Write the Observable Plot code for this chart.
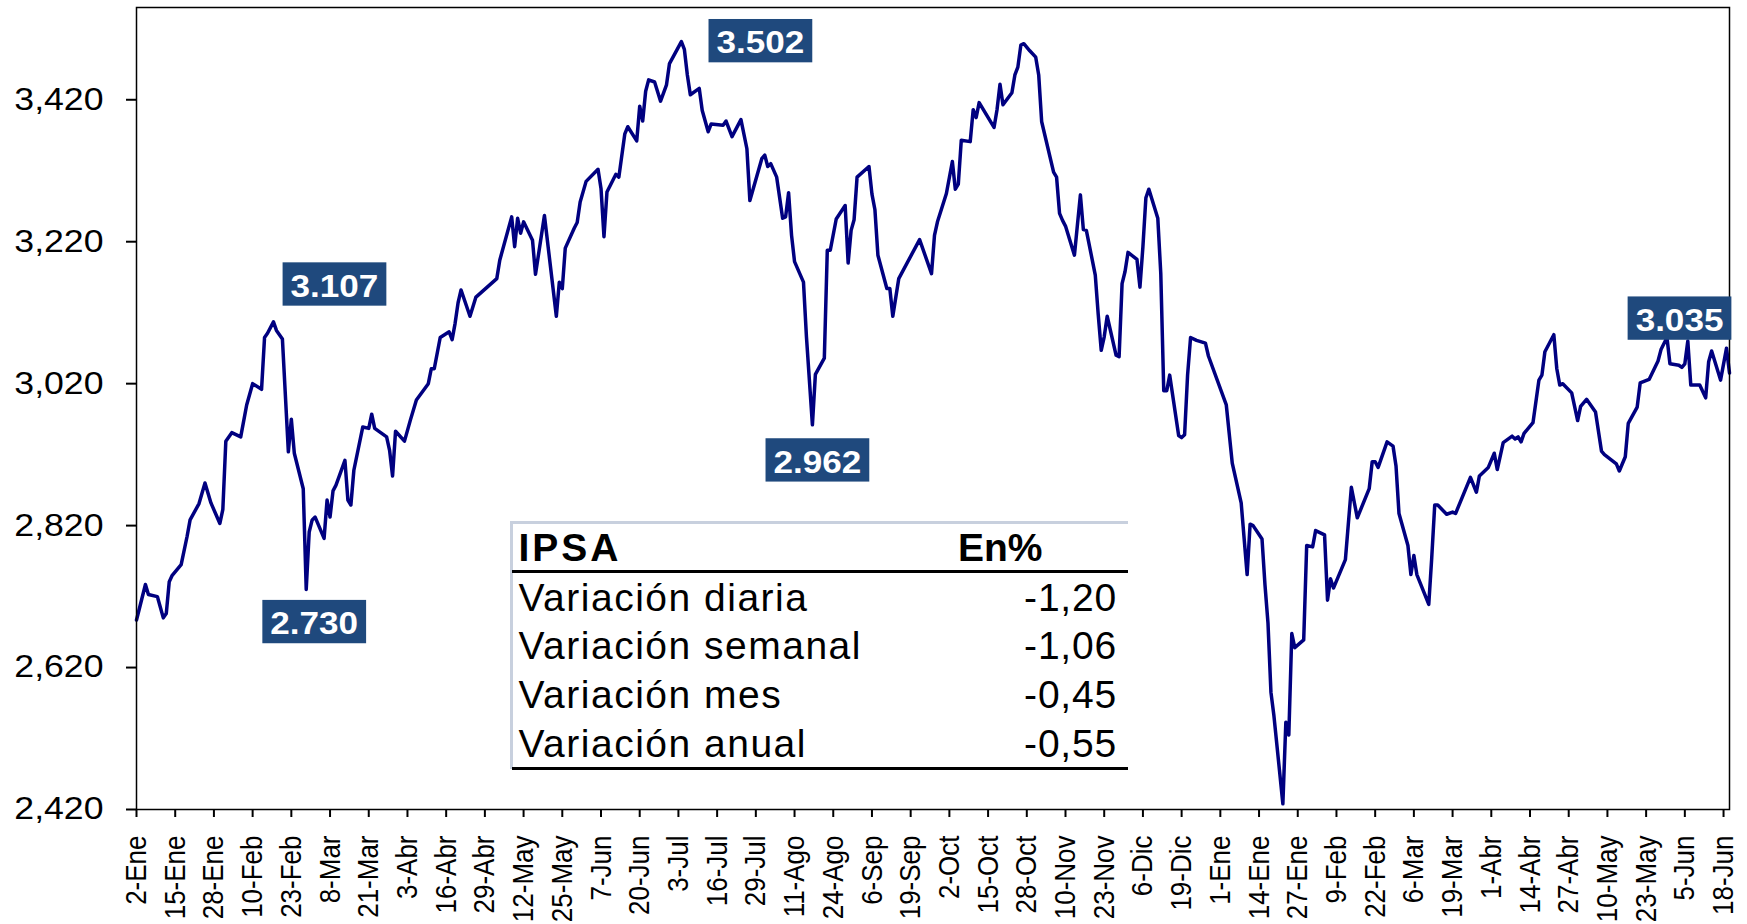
<!DOCTYPE html>
<html>
<head>
<meta charset="utf-8">
<script src="https://cdn.jsdelivr.net/npm/d3@7"></script>
<script src="https://cdn.jsdelivr.net/npm/@observablehq/plot@0.6"></script>
<style>
html,body{margin:0;padding:0;background:#fff;overflow:hidden}
#wrap{position:relative;width:1747px;height:924px}
#tbl{position:absolute;left:510px;top:521px;width:618px;height:249px;font-family:"Liberation Sans",Arial,sans-serif;font-size:39px;line-height:39px;color:#000}
#tbl .ln{position:absolute}
#tbl .txt{position:absolute;white-space:nowrap}
</style>
</head>
<body>
<div id="wrap"></div>
<script>
// ---------------- data ----------------
const dates = [
"2007-01-02","2007-01-05","2007-01-06","2007-01-09","2007-01-11","2007-01-12","2007-01-13","2007-01-14","2007-01-17","2007-01-19",
"2007-01-20","2007-01-23","2007-01-25","2007-01-27","2007-01-30","2007-01-31","2007-02-01","2007-02-03","2007-02-06","2007-02-08",
"2007-02-10","2007-02-13","2007-02-14","2007-02-15","2007-02-17","2007-02-18","2007-02-20","2007-02-22","2007-02-23","2007-02-24",
"2007-02-27","2007-02-28","2007-03-01","2007-03-02","2007-03-03","2007-03-06","2007-03-07","2007-03-08","2007-03-09","2007-03-10",
"2007-03-13","2007-03-14","2007-03-15","2007-03-16","2007-03-19","2007-03-21","2007-03-22","2007-03-23","2007-03-27","2007-03-28",
"2007-03-29","2007-03-30","2007-04-02","2007-04-04","2007-04-06","2007-04-10","2007-04-11","2007-04-12","2007-04-14","2007-04-17",
"2007-04-18","2007-04-19","2007-04-20","2007-04-21","2007-04-24","2007-04-26","2007-05-03","2007-05-04","2007-05-08","2007-05-09",
"2007-05-10","2007-05-11","2007-05-12","2007-05-15","2007-05-16","2007-05-19","2007-05-23","2007-05-24","2007-05-25","2007-05-26",
"2007-05-29","2007-05-30","2007-05-31","2007-06-02","2007-06-06","2007-06-07","2007-06-08","2007-06-09","2007-06-12","2007-06-13",
"2007-06-15","2007-06-16","2007-06-19","2007-06-20","2007-06-21","2007-06-22","2007-06-23","2007-06-25","2007-06-27","2007-06-29",
"2007-06-30","2007-07-04","2007-07-05","2007-07-06","2007-07-07","2007-07-10","2007-07-11","2007-07-13","2007-07-14","2007-07-18",
"2007-07-19","2007-07-21","2007-07-24","2007-07-26","2007-07-27","2007-07-31","2007-08-01","2007-08-02","2007-08-03","2007-08-05",
"2007-08-07","2007-08-08","2007-08-09","2007-08-10","2007-08-11","2007-08-14","2007-08-15","2007-08-17","2007-08-18","2007-08-21",
"2007-08-22","2007-08-23","2007-08-25","2007-08-28","2007-08-29","2007-08-30","2007-08-31","2007-09-01","2007-09-05","2007-09-06",
"2007-09-07","2007-09-08","2007-09-11","2007-09-12","2007-09-13","2007-09-15","2007-09-22","2007-09-26","2007-09-27","2007-09-28",
"2007-10-01","2007-10-03","2007-10-04","2007-10-05","2007-10-06","2007-10-09","2007-10-10","2007-10-11","2007-10-12","2007-10-17",
"2007-10-18","2007-10-19","2007-10-20","2007-10-23","2007-10-24","2007-10-25","2007-10-26","2007-10-27","2007-10-29","2007-10-31",
"2007-11-01","2007-11-02","2007-11-06","2007-11-07","2007-11-08","2007-11-09","2007-11-10","2007-11-13","2007-11-15","2007-11-16",
"2007-11-17","2007-11-20","2007-11-21","2007-11-22","2007-11-23","2007-11-24","2007-11-27","2007-11-28","2007-11-29","2007-11-30",
"2007-12-01","2007-12-04","2007-12-05","2007-12-06","2007-12-07","2007-12-08","2007-12-11","2007-12-12","2007-12-13","2007-12-14",
"2007-12-15","2007-12-18","2007-12-19","2007-12-20","2007-12-21","2007-12-22","2007-12-24","2007-12-27","2007-12-28","2008-01-03",
"2008-01-05","2008-01-08","2008-01-10","2008-01-11","2008-01-12","2008-01-15","2008-01-16","2008-01-17","2008-01-18","2008-01-19",
"2008-01-22","2008-01-23","2008-01-24","2008-01-25","2008-01-26","2008-01-29","2008-01-30","2008-02-01","2008-02-02","2008-02-05",
"2008-02-06","2008-02-07","2008-02-08","2008-02-12","2008-02-14","2008-02-16","2008-02-20","2008-02-21","2008-02-22","2008-02-23",
"2008-02-26","2008-02-28","2008-02-29","2008-03-01","2008-03-04","2008-03-05","2008-03-06","2008-03-07","2008-03-11","2008-03-12",
"2008-03-13","2008-03-14","2008-03-17","2008-03-19","2008-03-20","2008-03-25","2008-03-27","2008-03-28","2008-03-31","2008-04-02",
"2008-04-03","2008-04-05","2008-04-08","2008-04-09","2008-04-10","2008-04-11","2008-04-12","2008-04-15","2008-04-17","2008-04-18",
"2008-04-19","2008-04-22","2008-04-23","2008-04-24","2008-04-25","2008-04-28","2008-04-30","2008-05-01","2008-05-03","2008-05-06",
"2008-05-08","2008-05-09","2008-05-13","2008-05-14","2008-05-16","2008-05-17","2008-05-20","2008-05-21","2008-05-24","2008-05-27",
"2008-05-28","2008-05-30","2008-05-31","2008-06-03","2008-06-04","2008-06-05","2008-06-06","2008-06-07","2008-06-10","2008-06-12",
"2008-06-13","2008-06-14","2008-06-17","2008-06-19","2008-06-20"
];
const values = [
2687,2737,2723,2720,2690,2696,2741,2750,2765,2805,
2828,2851,2880,2852,2823,2843,2939,2951,2945,2990,
3020,3012,3085,3091,3107,3095,3083,2924,2970,2922,
2872,2730,2811,2828,2832,2802,2856,2832,2869,2877,
2912,2856,2849,2898,2959,2957,2977,2957,2945,2926,
2890,2953,2939,2969,2997,3020,3041,3041,3085,3093,
3082,3105,3134,3152,3115,3142,3168,3194,3255,3213,
3253,3232,3248,3222,3174,3257,3115,3163,3154,3211,
3239,3247,3276,3305,3322,3295,3227,3290,3315,3311,
3372,3382,3362,3411,3390,3432,3448,3445,3418,3441,
3471,3502,3491,3455,3427,3436,3405,3375,3386,3384,
3390,3368,3392,3351,3278,3337,3342,3326,3330,3311,
3253,3255,3289,3229,3192,3163,3086,2962,3033,3056,
3208,3208,3252,3271,3190,3236,3251,3311,3326,3287,
3265,3201,3154,3154,3115,3168,3223,3175,3229,3248,
3288,3333,3294,3301,3363,3361,3406,3395,3416,3381,
3406,3442,3413,3430,3455,3466,3497,3499,3489,3480,
3455,3389,3318,3311,3260,3250,3242,3201,3286,3237,
3236,3173,3117,3067,3086,3115,3060,3058,3161,3178,
3205,3195,3156,3213,3282,3294,3253,3175,3010,3010,
3032,2947,2944,2948,3032,3085,3081,3077,3059,2990,
2908,2852,2751,2822,2820,2801,2736,2683,2585,2552,
2428,2543,2525,2668,2648,2659,2792,2790,2813,2807,
2715,2745,2732,2772,2874,2831,2872,2910,2910,2902,
2938,2932,2904,2837,2792,2751,2778,2751,2709,2775,
2849,2849,2836,2839,2837,2888,2867,2890,2902,2922,
2899,2937,2946,2942,2945,2938,2950,2965,3025,3032,
3065,3089,3041,3018,3020,3007,2968,2988,2998,2980,
2925,2920,2907,2897,2917,2964,2987,3021,3026,3052,
3068,3085,3048,3046,3043,3048,3080,3018,3018,3000,
3051,3066,3025,3070,3035
];
const monthNames = ["Ene","Feb","Mar","Abr","May","Jun","Jul","Ago","Sep","Oct","Nov","Dic"];
const yTicks = [2420, 2620, 2820, 3020, 3220, 3420];
const xTickStart = "2007-01-02";
const xTickStepDays = 13;
const xTickCount = 42;
const yDomain = [2420, 3550];

// highlighted values (labels in boxes)
const labelDates = ["2007-02-17", "2007-07-04", "2007-02-28", "2007-08-17", "2008-06-20"];
const labelValues = [3107, 3502, 2730, 2962, 3035];

// summary table
const tableHeader = ["IPSA", "En%"];
const tableLabels = ["Variación diaria", "Variación semanal", "Variación mes", "Variación anual"];
const tableValues = ["-1,20", "-1,06", "-0,45", "-0,55"];

// ---------------- styles / layout ----------------
const FONT = '"Liberation Sans", Arial, sans-serif';
const LINE_COLOR = "#000080";
const BOX_COLOR = "#1F497D";
const labelOffsets = [[61, -35], [79, 2], [8, 35], [5, 38], [-50, -52]];

const data = dates.map((d, i) => ({date: new Date(d), value: values[i]}));
const xTicks = d3.range(xTickCount).map(i => d3.utcDay.offset(new Date(xTickStart), xTickStepDays * i));
const esFmt = d3.formatLocale({decimal: ",", thousands: ".", grouping: [3], currency: ["$", ""]}).format(",.0f");
const labelTexts = labelValues.map(v => esFmt(v));

const labelMarks = labelDates.map((d, i) => Plot.text([{date: new Date(d), value: labelValues[i], t: labelTexts[i]}], {
  x: "date", y: "value", text: "t",
  dx: labelOffsets[i][0], dy: labelOffsets[i][1],
  fill: "white", fontSize: 30.5, fontWeight: "bold", fontFamily: FONT,
  textAnchor: "middle"
}));

const chart = Plot.plot({
  width: 1747, height: 924,
  marginLeft: 136, marginRight: 18, marginTop: 7, marginBottom: 115,
  style: {fontFamily: FONT, background: "white", color: "black", overflow: "visible"},
  x: {type: "utc", domain: d3.extent(data, d => d.date)},
  y: {domain: yDomain},
  marks: [
    Plot.axisY({ticks: yTicks, tickFormat: d3.format(","), tickSize: 10, tickPadding: 23, fontSize: 31, strokeWidth: 2, label: null}),
    Plot.axisX({ticks: xTicks, tickFormat: d => `${d.getUTCDate()}-${monthNames[d.getUTCMonth()]}`,
      tickRotate: -90, tickSize: 8, tickPadding: 18, fontSize: 26, strokeWidth: 2, label: null, textAnchor: "end"}),
    Plot.line(data, {x: "date", y: "value", stroke: LINE_COLOR, strokeWidth: 3.5}),
    Plot.frame({stroke: "black", strokeWidth: 1.5}),
    ...labelMarks
  ]
});

const wrap = document.getElementById("wrap");
wrap.appendChild(chart);
const svg = chart.tagName.toLowerCase() === "svg" ? chart : chart.querySelector("svg");

// horizontal stretch of the text (as in the original picture)
function stretch(nodes, sx, sy) {
  nodes.forEach(t => {
    const tr = t.getAttribute("transform") || "";
    const xa = t.getAttribute("x"), ya = t.getAttribute("y");
    let tx = 0, ty = 0;
    if (xa !== null && xa !== "" && !isNaN(+xa)) { tx = +xa; t.removeAttribute("x"); }
    if (ya !== null && ya !== "" && !isNaN(+ya)) { ty = +ya; t.removeAttribute("y"); }
    t.setAttribute("transform", `${tr} translate(${tx},${ty}) scale(${sx},${sy})`);
  });
}
stretch(svg.querySelectorAll('[aria-label="y-axis tick label"] text'), 1.15, 1);
stretch(svg.querySelectorAll('[aria-label="x-axis tick label"] text'), 1, 1.15);

const allTexts = Array.from(svg.querySelectorAll("text"));
const valueTexts = allTexts.filter(t => labelTexts.includes(t.textContent.trim()));
stretch(valueTexts, 1.15, 1);

// boxes behind value labels
const NS = "http://www.w3.org/2000/svg";
const sb = svg.getBoundingClientRect();
valueTexts.forEach(t => {
  const r = t.getBoundingClientRect();
  const rect = document.createElementNS(NS, "rect");
  rect.setAttribute("x", r.left - sb.left - 8);
  rect.setAttribute("y", r.top - sb.top - 6.5);
  rect.setAttribute("width", r.width + 16);
  rect.setAttribute("height", r.height + 9);
  rect.setAttribute("fill", BOX_COLOR);
  const g = document.createElementNS(NS, "g");
  g.appendChild(rect);
  let host = t;
  while (host.parentNode && host.parentNode !== svg) host = host.parentNode;
  svg.insertBefore(g, host);
});

// summary table (HTML overlay)
const tbl = document.createElement("div");
tbl.id = "tbl";
wrap.appendChild(tbl);
function add(cls, css, text) {
  const el = document.createElement("div");
  el.className = cls;
  el.style.cssText = css;
  if (text !== undefined) el.textContent = text;
  tbl.appendChild(el);
  return el;
}
add("ln", "left:0;top:0;width:618px;height:3px;background:#C8D0DE");
add("ln", "left:0;top:0;width:2.5px;height:248px;background:#C8D0DE");
add("ln", "left:2px;top:49px;width:616px;height:3px;background:#000");
add("ln", "left:2px;top:246px;width:616px;height:3px;background:#000");
const ASC = 33; // baseline offset for 39px font at line-height 39px
const headBase = 39.7, firstBase = 89.7, rowStep = 48.6;
add("txt", `left:8.5px;top:${headBase - ASC}px;font-weight:bold;letter-spacing:3px`, tableHeader[0]);
add("txt", `left:448px;top:${headBase - ASC}px;font-weight:bold`, tableHeader[1]);
tableLabels.forEach((lab, i) => {
  const top = firstBase + i * rowStep - ASC;
  add("txt", `left:8.5px;top:${top}px;letter-spacing:1.5px`, lab);
  add("txt", `right:11px;top:${top}px;letter-spacing:0.8px`, tableValues[i]);
});
</script>
</body>
</html>
